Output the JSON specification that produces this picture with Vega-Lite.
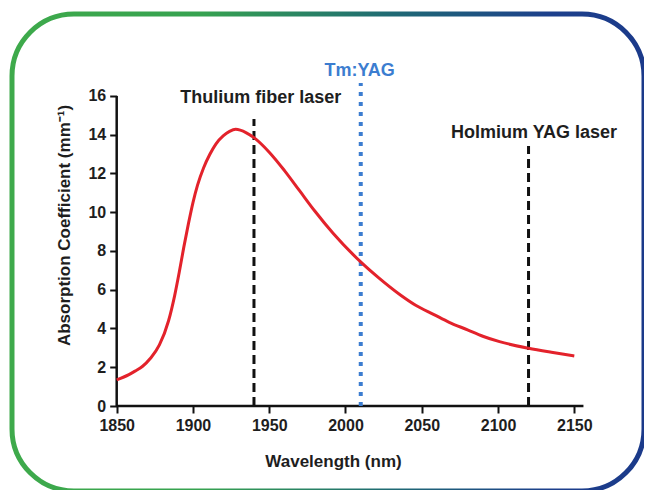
{
  "$schema": "https://vega.github.io/schema/vega-lite/v6.json",
  "width": 632,
  "height": 477,
  "autosize": {"type": "none"},
  "padding": {"left": 12, "top": 14, "right": 0, "bottom": 0},
  "background": "white",
  "view": {
    "stroke": {"gradient": "linear", "x1": 0, "y1": 0, "x2": 1, "y2": 0,
      "stops": [
        {"offset": 0, "color": "#3eaa4b"},
        {"offset": 0.3, "color": "#36a250"},
        {"offset": 0.6, "color": "#1f6a74"},
        {"offset": 0.85, "color": "#1d408c"},
        {"offset": 1, "color": "#1b3a8a"}
      ]},
    "strokeWidth": 5,
    "cornerRadius": 62,
    "fill": "white"
  },
  "config": {
    "font": "Liberation Sans",
    "axis": {"grid": false, "domain": false, "labelFont": "Liberation Sans", "titleFont": "Liberation Sans", "labelFontWeight": "bold", "titleFontWeight": "bold", "labelColor": "#1e1e1e", "titleColor": "#1e1e1e", "tickColor": "#111", "tickWidth": 2, "tickSize": 7, "labelFontSize": 16, "titleFontSize": 17, "labelPadding": 4, "format": "d"}
  },
  "datasets": {
    "absorption": [
      {"wavelength": 1850, "coefficient": 1.35},
      {"wavelength": 1858, "coefficient": 1.62},
      {"wavelength": 1862, "coefficient": 1.8},
      {"wavelength": 1867, "coefficient": 2.05},
      {"wavelength": 1872, "coefficient": 2.45},
      {"wavelength": 1878, "coefficient": 3.15},
      {"wavelength": 1884, "coefficient": 4.4},
      {"wavelength": 1888, "coefficient": 5.7},
      {"wavelength": 1891, "coefficient": 6.9},
      {"wavelength": 1894, "coefficient": 8.2},
      {"wavelength": 1897, "coefficient": 9.4},
      {"wavelength": 1900, "coefficient": 10.5},
      {"wavelength": 1903, "coefficient": 11.4},
      {"wavelength": 1907, "coefficient": 12.3},
      {"wavelength": 1911, "coefficient": 12.98},
      {"wavelength": 1915, "coefficient": 13.52},
      {"wavelength": 1920, "coefficient": 13.95},
      {"wavelength": 1924, "coefficient": 14.17},
      {"wavelength": 1928, "coefficient": 14.28},
      {"wavelength": 1935, "coefficient": 14.1},
      {"wavelength": 1940, "coefficient": 13.85},
      {"wavelength": 1950, "coefficient": 13.1},
      {"wavelength": 1960, "coefficient": 12.15},
      {"wavelength": 1970, "coefficient": 11.1},
      {"wavelength": 1980, "coefficient": 10.05},
      {"wavelength": 1992, "coefficient": 8.9},
      {"wavelength": 2011, "coefficient": 7.36},
      {"wavelength": 2022, "coefficient": 6.6},
      {"wavelength": 2036, "coefficient": 5.73},
      {"wavelength": 2046, "coefficient": 5.2},
      {"wavelength": 2058, "coefficient": 4.72},
      {"wavelength": 2068, "coefficient": 4.32},
      {"wavelength": 2080, "coefficient": 3.93},
      {"wavelength": 2090, "coefficient": 3.6},
      {"wavelength": 2101, "coefficient": 3.32},
      {"wavelength": 2120, "coefficient": 2.98},
      {"wavelength": 2135, "coefficient": 2.77},
      {"wavelength": 2150, "coefficient": 2.58}
    ],
    "lasers": [
      {"laser": "Thulium fiber laser", "wavelength": 1940, "bottom": 0, "top": 14.81, "kind": "dashed", "labelWavelength": 1944.4, "labelLevel": 15.9},
      {"laser": "Tm:YAG", "wavelength": 2010, "bottom": 0, "top": 16.67, "kind": "dotted", "labelWavelength": 2009.3, "labelLevel": 17.3},
      {"laser": "Holmium YAG laser", "wavelength": 2120, "bottom": 0, "top": 13.42, "kind": "dashed", "labelWavelength": 2123.6, "labelLevel": 14.1}
    ],
    "axisLines": [
      {"from": 1850, "to": 2156, "low": 0, "high": 0},
      {"from": 1850, "to": 1850, "low": 0, "high": 16}
    ]
  },
  "data": {"name": "absorption"},
  "layer": [
    {
      "data": {"name": "axisLines"},
      "mark": {"type": "rule", "color": "#111", "strokeWidth": 2.5},
      "encoding": {
        "x": {"field": "from", "type": "quantitative", "scale": {"domain": [1781.36, 2195.7], "nice": false, "zero": false}},
        "x2": {"field": "to"},
        "y": {"field": "low", "type": "quantitative", "scale": {"domain": [-4.387, 20.232], "nice": false, "zero": false}},
        "y2": {"field": "high"}
      }
    },
    {
      "data": {"name": "lasers"},
      "transform": [{"filter": "datum.kind === 'dashed'"}],
      "mark": {"type": "rule", "color": "#111", "strokeWidth": 3, "strokeDash": [9, 5]},
      "encoding": {
        "x": {"field": "wavelength", "type": "quantitative"},
        "y": {"field": "bottom", "type": "quantitative"},
        "y2": {"field": "top"}
      }
    },
    {
      "data": {"name": "lasers"},
      "transform": [{"filter": "datum.kind === 'dotted'"}],
      "mark": {"type": "rule", "color": "#3c7dd0", "strokeWidth": 4, "strokeDash": [4, 6]},
      "encoding": {
        "x": {"field": "wavelength", "type": "quantitative"},
        "y": {"field": "bottom", "type": "quantitative"},
        "y2": {"field": "top"}
      }
    },
    {
      "mark": {"type": "line", "color": "#e3222b", "strokeWidth": 3, "interpolate": "monotone"},
      "encoding": {
        "x": {"field": "wavelength", "type": "quantitative",
          "axis": {"values": [1850, 1900, 1950, 2000, 2050, 2100, 2150], "offset": -85, "title": "Wavelength (nm)", "titlePadding": 20, "titleX": 321}},
        "y": {"field": "coefficient", "type": "quantitative",
          "axis": {"values": [0, 2, 4, 6, 8, 10, 12, 14, 16], "offset": -104.7, "title": "Absorption Coefficient (mm⁻¹)", "titlePadding": 14, "titleY": 211}}
      }
    },
    {
      "data": {"name": "lasers"},
      "mark": {"type": "text", "fontWeight": "bold", "fontSize": 18, "baseline": "middle", "align": "center", "font": "Liberation Sans"},
      "encoding": {
        "x": {"field": "labelWavelength", "type": "quantitative"},
        "y": {"field": "labelLevel", "type": "quantitative"},
        "text": {"field": "laser"},
        "color": {"field": "kind", "type": "nominal", "scale": {"domain": ["dashed", "dotted"], "range": ["#1e1e1e", "#3c7dd0"]}, "legend": null}
      }
    }
  ]
}
